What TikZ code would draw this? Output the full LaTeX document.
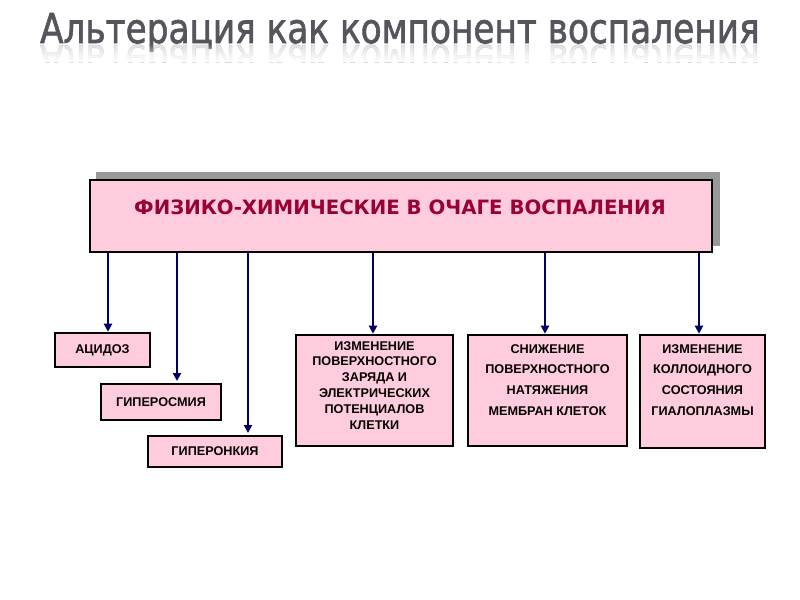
\documentclass[tikz,border=0pt]{standalone}
\usepackage{fontspec}
\setmainfont{Liberation Sans}
\newfontfamily\titlefont[FakeBold=1.6]{DejaVu Sans Condensed}
\newfontfamily\headfont{DejaVu Sans}
\usetikzlibrary{arrows.meta,fadings}
\definecolor{boxpink}{HTML}{FFCCDD}
\definecolor{shadowgray}{HTML}{999999}
\definecolor{arrowblue}{HTML}{000066}
\definecolor{headred}{HTML}{990033}
\definecolor{titlegray}{HTML}{55555D}
\tikzset{
  pinkbox/.style={draw=black, fill=boxpink, line width=1.9pt, inner sep=0pt, align=center,
    font=\fontsize{9.5pt}{12pt}\selectfont\bfseries},
  boxtext/.style={align=center, anchor=north, inner sep=0pt},
  link/.style={draw=arrowblue, line width=1.5pt, -{Triangle[length=6pt,width=6pt]}},
  titlestyle/.style={font=\titlefont\fontsize{28.6pt}{32pt}\selectfont, text=titlegray, inner sep=0pt},
}
\begin{document}
\begin{tikzpicture}[x=0.75pt,y=-0.75pt]
\useasboundingbox (0,0) rectangle (800,600);
% title
\node[titlestyle, anchor=base] (title) at (400,43) {\scalebox{1}[1.08]{Альтерация как компонент воспаления}};
\begin{scope}
\clip (0,44) rectangle (800,62);
\node[titlestyle, anchor=base, opacity=0.18] (titlerefl) at (400,45) {\scalebox{1}[-1.08]{Альтерация как компонент воспаления}};
\fill[white, path fading=north] (0,44) rectangle (800,62);
\end{scope}
% main box with shadow
\fill[shadowgray] (96,172) rectangle (720,246);
\node[pinkbox, minimum width=622*0.75pt, minimum height=72*0.75pt] (main) at (401,216) {};
\node[font=\headfont\fontsize{14.8pt}{17pt}\selectfont\bfseries, text=headred] (mainlabel) at (400,207) {ФИЗИКО-ХИМИЧЕСКИЕ В ОЧАГЕ ВОСПАЛЕНИЯ};
% boxes
\node[pinkbox, minimum width=95*0.75pt, minimum height=34*0.75pt] (acid) at (102.5,350) {АЦИДОЗ};
\node[pinkbox, minimum width=120*0.75pt, minimum height=36*0.75pt] (osm) at (161,402) {ГИПЕРОСМИЯ};
\node[pinkbox, minimum width=134*0.75pt, minimum height=31*0.75pt] (onk) at (215,451.5) {ГИПЕРОНКИЯ};
\node[pinkbox, minimum width=157*0.75pt, minimum height=111*0.75pt] (charge) at (374.5,390.5) {};
\node[boxtext, font=\fontsize{9.5pt}{11.9pt}\selectfont\bfseries] (chargetext) at (374.5,341) {ИЗМЕНЕНИЕ\\ПОВЕРХНОСТНОГО\\ЗАРЯДА И\\ЭЛЕКТРИЧЕСКИХ\\ПОТЕНЦИАЛОВ\\КЛЕТКИ};
\node[pinkbox, minimum width=159*0.75pt, minimum height=111*0.75pt] (tension) at (547.5,390.5) {};
\node[boxtext, font=\fontsize{9.5pt}{15.6pt}\selectfont\bfseries] (tensiontext) at (547.5,344) {СНИЖЕНИЕ\\ПОВЕРХНОСТНОГО\\НАТЯЖЕНИЯ\\МЕМБРАН КЛЕТОК};
\node[pinkbox, minimum width=125*0.75pt, minimum height=113*0.75pt] (colloid) at (702.5,391.5) {};
\node[boxtext, font=\fontsize{9.5pt}{15.6pt}\selectfont\bfseries] (colloidtext) at (702.5,344) {ИЗМЕНЕНИЕ\\КОЛЛОИДНОГО\\СОСТОЯНИЯ\\ГИАЛОПЛАЗМЫ};
% arrow starts
\coordinate (s1) at (108,253);
\coordinate (s2) at (177,253);
\coordinate (s3) at (248,253);
\coordinate (s4) at (373,253);
\coordinate (s5) at (545,253);
\coordinate (s6) at (699,253);
\coordinate (e2) at (177,381);
\coordinate (e3) at (248,433);
\draw[link] (s1) -- (s1 |- acid.north);
\draw[link] (s2) -- (e2);
\draw[link] (s3) -- (e3);
\draw[link] (s4) -- (s4 |- charge.north);
\draw[link] (s5) -- (s5 |- tension.north);
\draw[link] (s6) -- (s6 |- colloid.north);
\end{tikzpicture}
\end{document}
